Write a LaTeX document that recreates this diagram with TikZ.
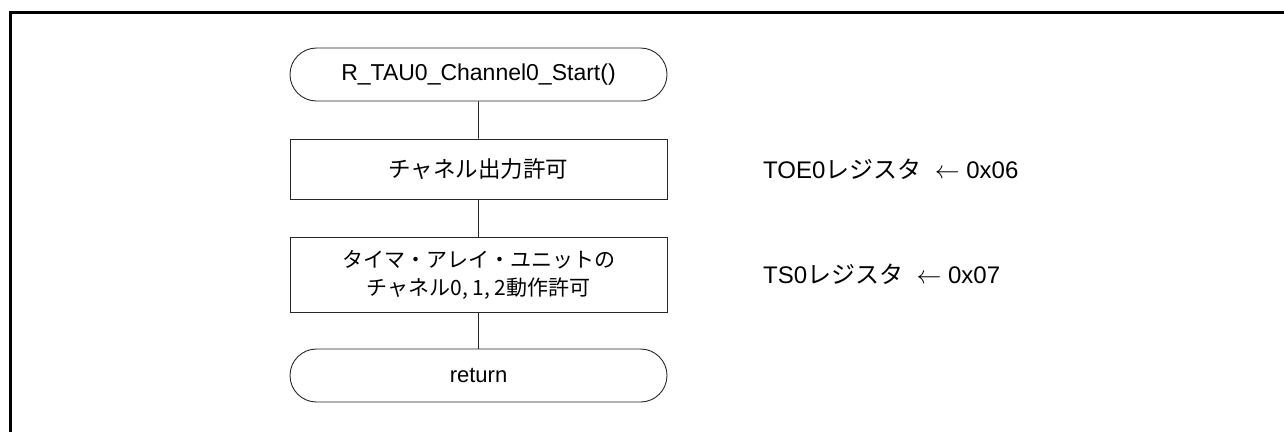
\documentclass[tikz,border=0pt]{standalone}
\usepackage{fontspec}
\setmainfont{Liberation Sans}
\newfontfamily\jpfont{Noto Sans CJK JP}
\usetikzlibrary{shapes.misc}

\begin{document}
\begin{tikzpicture}[x=1pt, y=-1pt,
        term/.style={rounded rectangle, draw=black!85, line width=0.9pt,
            minimum width=377pt, minimum height=53pt, inner sep=0pt},
        proc/.style={rectangle, draw=black!85, line width=0.9pt,
            minimum width=377pt, inner sep=0pt, align=center,
            font=\jpfont\fontsize{21}{28}\selectfont},
        note/.style={anchor=west, inner sep=0pt,
            font=\fontsize{24}{28}\selectfont}]
        \useasboundingbox (0,0) rectangle (1284,432);

        % outer frame
        \draw[line width=3pt] (10,432) -- (10,12) -- (1284,12);

        \node[term, font=\fontsize{23}{27}\selectfont]
        (start) at (478.5,74.5) {R\_TAU0\_Channel0\_Start()};

        \node[proc, minimum height=60pt, font=\jpfont\fontsize{22.5}{27}\selectfont]
        (toe) at (478.5,169) {チャネル出力許可};

        \node[proc, minimum height=75pt]
        (ts) at (478.5,274.5) {タイマ・アレイ・ユニットの\\チャネル0, 1, 2動作許可};

        \node[term, font=\fontsize{22}{26}\selectfont]
        (ret) at (478.5,375.5) {return};

        \draw[draw=black!85, line width=0.9pt] (start) -- (toe);
        \draw[draw=black!85, line width=0.9pt] (toe) -- (ts);
        \draw[draw=black!85, line width=0.9pt] (ts) -- (ret);

        \node[note] (toenote) at (763,169)
        {TOE0{\jpfont レジスタ}\ \ $\leftarrow$ 0x06};

        \node[note] (tsnote) at (763,274.5)
        {TS0{\jpfont レジスタ}\ \ $\leftarrow$ 0x07};
\end{tikzpicture}
\end{document}
